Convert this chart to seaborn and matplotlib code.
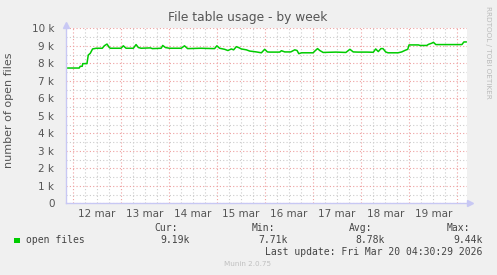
import numpy as np
import pandas as pd
import matplotlib
matplotlib.use("Agg")
import matplotlib.pyplot as plt
from matplotlib.patches import Rectangle
import seaborn as sns

# ---- data (hours since 12 mar 00:00, open files) ----
hours = [-3.5, 3.35, 3.85, 4.85, 5.1, 7.2, 7.85, 8.85, 10.0, 11.85, 14.85, 15.85, 17.2,
         18.35, 18.85, 24.2, 25.35, 26.7, 30.35, 31.7, 32.85, 34.2, 38.85, 39.85, 44.2,
         45.0, 46.35, 48.35, 54.2, 55.85, 57.2, 57.35, 63.85, 70.85, 72.0, 73.35, 75.85,
         77.5, 79.2, 80.35, 81.7, 82.85, 84.2, 86.7, 88.35, 91.7, 94.2, 95.85, 97.2, 98.35,
         103.35, 104.2, 105.85, 108.85, 110.85, 112.0, 112.85, 114.2, 120.0, 120.85, 122.2,
         123.35, 125.0, 131.35, 136.35, 138.35, 140.0, 142.35, 146.85, 150.0, 151.2, 152.5,
         153.85, 154.85, 156.2, 157.35, 162.35, 164.2, 165.85, 167.2, 167.85, 172.5, 173.35,
         176.7, 177.5, 179.2, 180.0, 181.2, 194.2, 195.2, 196.5]
open_files = [7730, 7730, 7830, 7830, 7980, 7980, 8470, 8570, 8820, 8860, 8860, 9000, 9100,
              8900, 8860, 8860, 9000, 8860, 8860, 9070, 8900, 8860, 8880, 8840, 8860,
              9020, 8900, 8860, 8860, 9000, 8860, 8840, 8860, 8840, 9000, 8860, 8800,
              8730, 8820, 8770, 8950, 8900, 8820, 8770, 8700, 8650, 8600, 8800, 8650, 8640,
              8640, 8720, 8650, 8650, 8770, 8730, 8550, 8600, 8600, 8700, 8840,
              8730, 8620, 8640, 8620, 8800, 8650, 8640, 8640, 8630, 8820, 8670,
              8840, 8840, 8650, 8600, 8600, 8650, 8740, 8800, 9050, 9050, 9020,
              9020, 9080, 9150, 9200, 9070, 9070, 9220, 9220]

day_labels = ["12 mar", "13 mar", "14 mar", "15 mar", "16 mar", "17 mar", "18 mar", "19 mar"]
y_ticks = [0, 1000, 2000, 3000, 4000, 5000, 6000, 7000, 8000, 9000, 10000]
y_tick_labels = ["0", "1 k", "2 k", "3 k", "4 k", "5 k", "6 k", "7 k", "8 k", "9 k", "10 k"]
stat_headers = ["Cur:", "Min:", "Avg:", "Max:"]
stat_values = ["9.19k", "7.71k", "8.78k", "9.44k"]
series_name = "open files"

df = pd.DataFrame({"hours": hours, "value": open_files})

sns.set_style("white")
plt.rcParams["font.family"] = ["DejaVu Sans"]

W, H = 497, 275
fig = plt.figure(figsize=(W / 100, H / 100), dpi=100, facecolor="#f0f0f0")

def fx(px):
    return px / W

def fy(py):
    return 1 - py / H

ax_l, ax_r, ax_t, ax_b = 65.5, 466.5, 28.3, 203.3
ax = fig.add_axes([fx(ax_l), fy(ax_b), fx(ax_r - ax_l), (ax_b - ax_t) / H])
ax.set_facecolor("white")

sns.lineplot(data=df, x="hours", y="value", ax=ax, color="#00cc00", linewidth=1.1)

ax.set_xlim(-3.5, 196.5)
ax.set_ylim(0, 10000)

# ticks & grid
ax.set_xticks(np.arange(0, 197, 24))
ax.set_xticks(np.arange(-0, 197, 6), minor=True)
ax.set_xticklabels([])
ax.set_yticks(y_ticks)
ax.set_yticks(np.arange(500, 10000, 1000), minor=True)
ax.set_yticklabels(y_tick_labels)
ax.tick_params(axis="y", which="major", length=2, color="#f0a0a0", labelsize=7.5,
               labelcolor="#555555", pad=6)
ax.tick_params(axis="y", which="minor", length=0)
ax.tick_params(axis="x", which="major", length=3, color="#f0a0a0", direction="out")
ax.tick_params(axis="x", which="minor", length=0)

ax.grid(True, which="major", color="#eea0a0", linestyle=(0, (1, 2)), linewidth=0.8)
ax.grid(True, which="minor", color="#cccccc", linestyle=(0, (1, 2)), linewidth=0.8)
ax.set_axisbelow(True)

for name in ["top", "right"]:
    ax.spines[name].set_visible(False)
for name in ["left", "bottom"]:
    ax.spines[name].set_color("#c8c8f4")
    ax.spines[name].set_linewidth(1.0)

# axis arrows
ax.plot([0], [1.02], marker="^", markersize=4.5, color="#c8c8f4", transform=ax.transAxes,
        clip_on=False)
ax.plot([1.008], [0], marker=">", markersize=4.5, color="#c8c8f4", transform=ax.transAxes,
        clip_on=False)
ax.plot([0, 0], [1.0, 1.02], color="#c8c8f4", lw=1, transform=ax.transAxes, clip_on=False)
ax.plot([1.0, 1.008], [0, 0], color="#c8c8f4", lw=1, transform=ax.transAxes, clip_on=False)

# day labels at noon
for i, lab in enumerate(day_labels):
    ax.text(12 + 24 * i, -0.035, lab, transform=ax.get_xaxis_transform(), ha="center",
            va="top", fontsize=7.5, color="#555555")

ax.set_xlabel("")
ax.set_ylabel("")

# title & labels
fig.text(fx(248), fy(17), "File table usage - by week", ha="center", va="center",
         fontsize=8.8, color="#555555")
fig.text(fx(9), fy(110), "number of open files", rotation=90, ha="center", va="center",
         fontsize=8, color="#555555")
fig.text(fx(488), fy(52), "RRDTOOL / TOBI OETIKER", rotation=270, ha="center", va="center",
         fontsize=5.2, color="#bbbbbb")

# legend
fig.patches.append(Rectangle((fx(14), fy(243)), fx(6), 5.5 / H, transform=fig.transFigure,
                             facecolor="#00cc00", edgecolor="none"))
mono = "DejaVu Sans Mono"
fig.text(fx(26), fy(240), series_name, ha="left", va="center", fontsize=7,
         family=mono, color="#444444")
header_left = [154, 251.5, 349, 447]
value_right = [189.7, 287.3, 385, 482.7]
for hx, h in zip(header_left, stat_headers):
    fig.text(fx(hx), fy(227.7), h, ha="left", va="center", fontsize=7, family=mono,
             color="#444444")
for vx, v in zip(value_right, stat_values):
    fig.text(fx(vx), fy(240), v, ha="right", va="center", fontsize=7, family=mono,
             color="#444444")
fig.text(fx(482.7), fy(251.7), "Last update: Fri Mar 20 04:30:29 2026", ha="right",
         va="center", fontsize=7, family=mono, color="#444444")
fig.text(fx(248), fy(264), "Munin 2.0.75", ha="center", va="center", fontsize=5.2,
         color="#c0c0c0")

fig.savefig("out.png", dpi=100, facecolor=fig.get_facecolor())
